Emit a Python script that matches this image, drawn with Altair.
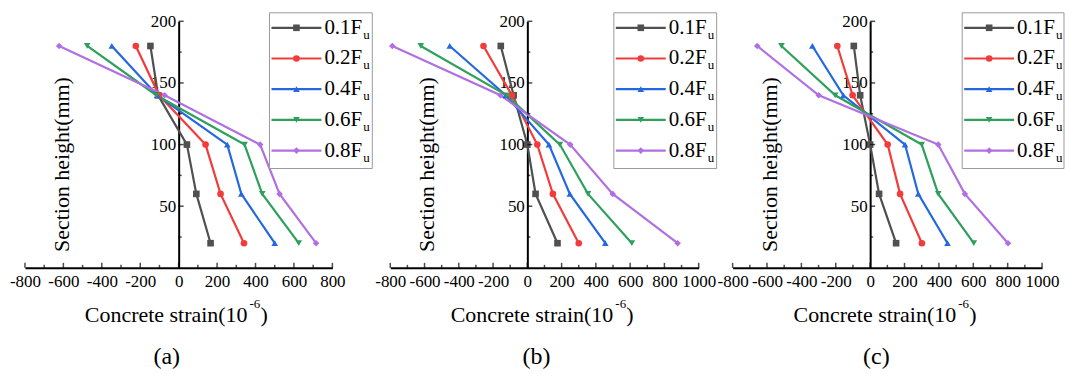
import altair as alt
import pandas as pd

# ---------------- data ----------------
heights = [20, 60, 100, 140, 180]
loads = ["0.1Fu", "0.2Fu", "0.4Fu", "0.6Fu", "0.8Fu"]
legend_main = ["0.1F", "0.2F", "0.4F", "0.6F", "0.8F"]

# panel (a) concrete strain (10^-6) at heights 20,60,100,140,180
a_01 = [166, 92, 43, -107, -147]
a_02 = [340, 218, 140, -102, -223]
a_04 = [500, 326, 253, -112, -348]
a_06 = [625, 435, 343, -116, -476]
a_08 = [715, 525, 424, -73, -622]

# panel (b)
b_01 = [176, 48, 0, -80, -155]
b_02 = [300, 149, 58, -90, -256]
b_04 = [455, 248, 126, -126, -453]
b_06 = [610, 354, 190, -120, -622]
b_08 = [877, 498, 250, -157, -788]

# panel (c)
c_01 = [151, 52, 0, -58, -95]
c_02 = [301, 174, 102, -102, -191]
c_04 = [450, 280, 203, -156, -336]
c_06 = [603, 396, 300, -203, -516]
c_08 = [802, 551, 396, -299, -657]

x_major_a = [-800, -600, -400, -200, 0, 200, 400, 600, 800]
x_minor_a = [-700, -500, -300, -100, 100, 300, 500, 700]
x_major_bc = [-800, -600, -400, -200, 0, 200, 400, 600, 800, 1000]
x_minor_bc = [-700, -500, -300, -100, 100, 300, 500, 700, 900]
y_major = [50, 100, 150, 200]
y_minor = [25, 75, 125, 175]

colors = ["#505050", "#f23c3c", "#2468e0", "#2ea05c", "#b070e2"]
shapes = ["square", "circle", "triangle-up", "triangle-down", "diamond"]

FONT = "Liberation Serif, Times New Roman, Times, DejaVu Serif, serif"
PLOT_H = 247
LW = 2.2
MS = 44


def build_panel(series, xmax, xmaj, xmin, plot_w, panel_w, leg_left, leg_right, tag, tag_dx):
    rows = []
    for load, vals in zip(loads, series):
        for h, v in zip(heights, vals):
            rows.append({"load": load, "height": h, "strain": v})
    df = pd.DataFrame(rows)

    zero_px = plot_w * 800.0 / (xmax + 800.0)
    xscale = alt.Scale(domain=[-800, xmax], range=[0, plot_w], nice=False, zero=False)
    yscale = alt.Scale(domain=[0, 200], nice=False)
    xaxis = alt.Axis(values=xmaj, title=None, grid=False, ticks=False, domainColor="black",
                     domainWidth=2, labelFont=FONT, labelFontSize=17, labelColor="black",
                     labelPadding=6, labelFlush=False, labelOverlap=False,
                     labelExpr="datum.value < 0 ? '-' + abs(datum.value) : '' + datum.value")
    yaxis = alt.Axis(values=y_major, title=None, grid=False, ticks=False, domainColor="black",
                     domainWidth=2, labelFont=FONT, labelFontSize=17, labelColor="black",
                     labelPadding=3, offset=-zero_px, labelFlush=False, labelOverlap=False)

    def X():
        return alt.X("strain:Q", scale=xscale, axis=xaxis)

    def Y():
        return alt.Y("height:Q", scale=yscale, axis=yaxis)

    cscale = alt.Scale(domain=loads, range=colors)
    sscale = alt.Scale(domain=loads, range=shapes)

    lines = alt.Chart(df).mark_line(strokeWidth=LW).encode(
        x=X(), y=Y(), color=alt.Color("load:N", scale=cscale, legend=None),
        order=alt.Order("height:Q"))
    points = alt.Chart(df).mark_point(filled=True, size=MS, opacity=1).encode(
        x=X(), y=Y(), color=alt.Color("load:N", scale=cscale, legend=None),
        shape=alt.Shape("load:N", scale=sscale, legend=None))

    xt_major = alt.Chart(pd.DataFrame({"strain": xmaj, "height": [0] * len(xmaj)})).mark_tick(
        orient="vertical", size=5, thickness=1.5, color="black", yOffset=-2.5).encode(x=X(), y=Y())
    xt_minor = alt.Chart(pd.DataFrame({"strain": xmin, "height": [0] * len(xmin)})).mark_tick(
        orient="vertical", size=3, thickness=1.5, color="black", yOffset=-1.5).encode(x=X(), y=Y())
    yt_major = alt.Chart(pd.DataFrame({"height": y_major, "strain": [0] * len(y_major)})).mark_tick(
        orient="horizontal", size=5, thickness=1.5, color="black", xOffset=2.5).encode(x=X(), y=Y())
    yt_minor = alt.Chart(pd.DataFrame({"height": y_minor, "strain": [0] * len(y_minor)})).mark_tick(
        orient="horizontal", size=3, thickness=1.5, color="black", xOffset=1.5).encode(x=X(), y=Y())

    one = pd.DataFrame({"k": [0]})
    layers = [lines, points, xt_major, xt_minor, yt_major, yt_minor]

    # legend box
    layers.append(alt.Chart(one).mark_rect(fill="white", stroke="#9a9a9a", strokeWidth=1).encode(
        x=alt.value(leg_left), x2=alt.value(leg_right), y=alt.value(-8.5), y2=alt.value(147.5)))
    for i, (load, lab) in enumerate(zip(loads, legend_main)):
        ly = 6.5 + i * 30.75
        layers.append(alt.Chart(one).mark_rule(strokeWidth=LW, color=colors[i]).encode(
            x=alt.value(leg_left + 2), x2=alt.value(leg_left + 52), y=alt.value(ly)))
        layers.append(alt.Chart(one).mark_point(filled=True, size=MS, opacity=1, shape=shapes[i],
                                                color=colors[i]).encode(
            x=alt.value(leg_left + 27), y=alt.value(ly)))
        layers.append(alt.Chart(one).mark_text(text=lab, font=FONT, fontSize=21, align="left",
                                               baseline="middle", color="black").encode(
            x=alt.value(leg_left + 55), y=alt.value(ly)))
        layers.append(alt.Chart(one).mark_text(text="u", font=FONT, fontSize=13, align="left",
                                               baseline="middle", color="black").encode(
            x=alt.value(leg_left + 94), y=alt.value(ly + 7)))

    # axis titles
    cx = plot_w / 2.0
    start = cx - 94
    layers.append(alt.Chart(one).mark_text(text="Concrete strain(10", font=FONT, fontSize=22,
                                           align="left", baseline="middle", color="black").encode(
        x=alt.value(start), y=alt.value(294.5)))
    layers.append(alt.Chart(one).mark_text(text="-6", font=FONT, fontSize=13,
                                           align="left", baseline="middle", color="black").encode(
        x=alt.value(start + 165), y=alt.value(283.5)))
    layers.append(alt.Chart(one).mark_text(text=")", font=FONT, fontSize=22,
                                           align="left", baseline="middle", color="black").encode(
        x=alt.value(start + 176), y=alt.value(294.5)))
    layers.append(alt.Chart(one).mark_text(text="Section height(mm)", font=FONT, fontSize=22,
                                           angle=270, align="center", baseline="middle",
                                           color="black").encode(
        x=alt.value(37), y=alt.value(143.5)))
    layers.append(alt.Chart(one).mark_text(text=tag, font=FONT, fontSize=24, align="center",
                                           baseline="middle", color="black").encode(
        x=alt.value(cx + tag_dx), y=alt.value(336.5)))

    return alt.layer(*layers).properties(width=panel_w, height=PLOT_H)


pa = build_panel([a_01, a_02, a_04, a_06, a_08], 800, x_major_a, x_minor_a, 308, 366, 245, 348, "(a)", -12)
pb = build_panel([b_01, b_02, b_04, b_06, b_08], 1000, x_major_bc, x_minor_bc, 309, 343, 224, 327, "(b)", -8)
pc = build_panel([c_01, c_02, c_04, c_06, c_08], 1000, x_major_bc, x_minor_bc, 310, 331, 230, 332, "(c)", -11)

chart = alt.hconcat(pa, pb, pc, spacing=0, bounds="flush").properties(
    padding={"left": 9, "top": 12, "right": 0, "bottom": 0},
    background="white",
).configure_view(stroke=None)

chart.save("out.html", embed_options={"renderer": "svg", "actions": False})
